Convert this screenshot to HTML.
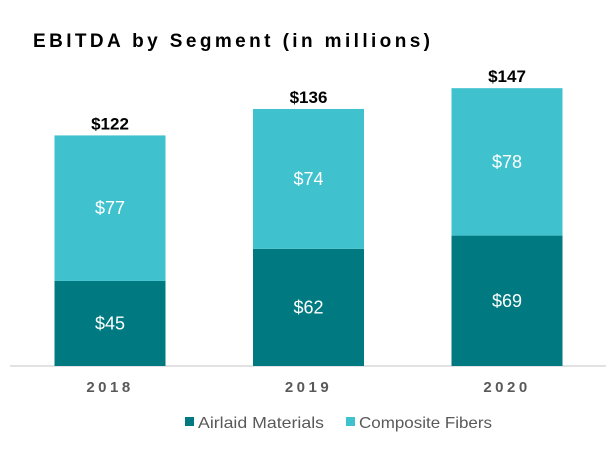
<!DOCTYPE html>
<html><head><meta charset="utf-8"><style>
body{margin:0;background:#fff;width:616px;height:449px;overflow:hidden;font-family:"Liberation Sans",sans-serif}
</style></head><body>
<svg width="616" height="449">
<text x="33" y="47" font-size="19" font-weight="bold" textLength="397" fill="#000">EBITDA by Segment (in millions)</text>
<line x1="10" y1="366" x2="606" y2="366" stroke="#d9d9d9" stroke-width="1.5"/>
<g id="bars"></g>
<g>
<rect x="185" y="417" width="9" height="9" fill="#007A80"/>
<text x="198" y="428" font-size="16" fill="#595959" textLength="126" lengthAdjust="spacingAndGlyphs">Airlaid Materials</text>
<rect x="346" y="417" width="9" height="9" fill="#40C1CE"/>
<text x="359" y="428" font-size="16" fill="#595959" textLength="133" lengthAdjust="spacingAndGlyphs">Composite Fibers</text>
</g>
</svg>
<script>
const categories=["2018","2019","2020"];
const airlaid=[45,62,69];
const composite=[77,74,78];
const totals=[122,136,147];
const base=366,scale=1.89,bw=111;
function x(i){return 110+i*198.5;}
function y(v){return base-v*scale;}
const g=document.getElementById('bars');
const NS="http://www.w3.org/2000/svg";
function mk(t,a,txt){const e=document.createElementNS(NS,t);for(const k in a)e.setAttribute(k,a[k]);if(txt!==undefined)e.textContent=txt;g.appendChild(e);return e;}
categories.forEach((c,i)=>{
 const cx=x(i);
 let r=mk('rect',{x:cx-bw/2,y:y(airlaid[i]),width:bw,height:airlaid[i]*scale,fill:'#007A80'});
 
 
 let r2=mk('rect',{x:cx-bw/2,y:y(airlaid[i]+composite[i]),width:bw,height:composite[i]*scale,fill:'#40C1CE'});
 
 
 let t1=mk('text',{x:cx,y:y(airlaid[i]/2)+6,'text-anchor':'middle','font-size':18,fill:'#fff'},'$'+airlaid[i]);
 
 
 let t2=mk('text',{x:cx,y:y(airlaid[i]+composite[i]/2)+6,'text-anchor':'middle','font-size':18,fill:'#fff'},'$'+composite[i]);
 
 
 let t3=mk('text',{x:cx,y:y(totals[i])-6,'text-anchor':'middle','font-size':17,'font-weight':'bold',fill:'#000'},'$'+totals[i]);
 
 
 let t4=mk('text',{x:cx,y:392,'text-anchor':'middle','font-size':15,'font-weight':'bold',fill:'#595959','letter-spacing':3.5},c);
 
 
});
</script>
</body></html>
